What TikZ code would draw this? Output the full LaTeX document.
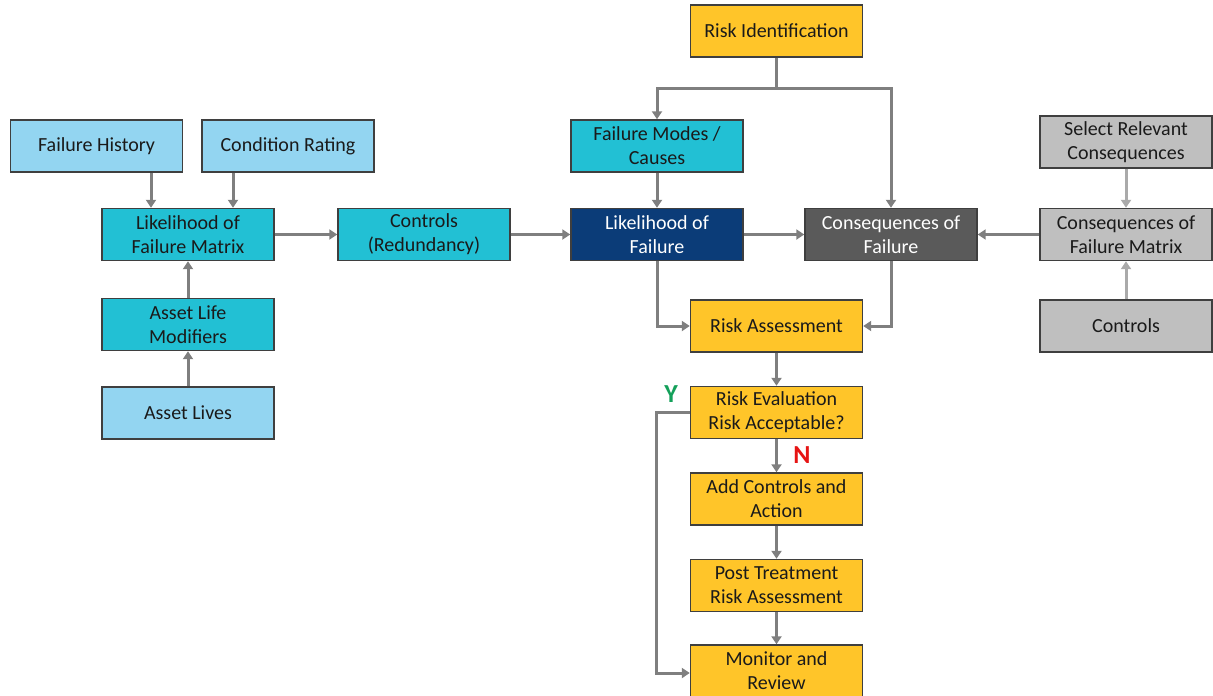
\documentclass[tikz,border=0pt]{standalone}
\usepackage{fontspec}
\setmainfont{Carlito}
\usetikzlibrary{arrows.meta}
\definecolor{lblue}{HTML}{93D5F1}
\definecolor{teal}{HTML}{22C0D4}
\definecolor{dblue}{HTML}{0B3C78}
\definecolor{dgray}{HTML}{5A5A5A}
\definecolor{lgray}{HTML}{BFBFBF}
\definecolor{yell}{HTML}{FFC529}
\definecolor{bord}{HTML}{3F3F3F}
\definecolor{arrc}{HTML}{7F7F7F}
\definecolor{arrl}{HTML}{AAAAAA}
\definecolor{txt}{HTML}{1A1A1A}
\tikzset{
  box/.style={draw=bord, line width=1.4pt, minimum width=172pt, minimum height=52pt,
    inner sep=2pt, align=center, text=txt, font=\fontsize{20}{24}\selectfont},
  arr/.style={draw=arrc, line width=3pt, -{Triangle[length=8pt,width=10pt]}},
  arrlight/.style={draw=arrl, line width=3pt, -{Triangle[length=8pt,width=10pt]}},
  plain/.style={draw=arrc, line width=3pt}
}
\begin{document}
\begin{tikzpicture}[x=1pt,y=-1pt]
\useasboundingbox (0,0) rectangle (1213,696);
% left cluster
\node[box, fill=lblue] (fh) at (96.5,146) {Failure History};
\node[box, fill=lblue] (cr) at (288,146) {Condition Rating};
\node[box, fill=teal] (lfm) at (188,234.5) {Likelihood of\\Failure Matrix};
\node[box, fill=teal] (alm) at (188,324.5) {Asset Life\\Modifiers};
\node[box, fill=lblue] (al) at (188,413) {Asset Lives};
\node[box, fill=teal] (ctr) at (424,234.5) {Controls\\(Redundancy)};
% centre
\node[box, fill=yell] (ri) at (776.5,31) {Risk Identification};
\node[box, fill=teal] (fmc) at (657,146) {Failure Modes /\\Causes};
\node[box, fill=dblue, text=white] (lof) at (657,234.5) {Likelihood of\\Failure};
\node[box, fill=dgray, text=white] (cof) at (891,234.5) {Consequences of\\Failure};
% right
\node[box, fill=lgray] (src) at (1126,142) {Select Relevant\\Consequences};
\node[box, fill=lgray] (cfm) at (1126,234.5) {Consequences of\\Failure Matrix};
\node[box, fill=lgray] (cg) at (1126,326) {Controls};
% column
\node[box, fill=yell] (ra) at (776.5,326) {Risk Assessment};
\node[box, fill=yell] (re) at (776.5,412.5) {Risk Evaluation\\Risk Acceptable?};
\node[box, fill=yell] (ac) at (776.5,499) {Add Controls and\\Action};
\node[box, fill=yell] (pt) at (776.5,585.5) {Post Treatment\\Risk Assessment};
\node[box, fill=yell] (mr) at (776.5,671) {Monitor and\\Review};
% labels
\node[font=\fontsize{26}{28}\selectfont\bfseries, text={rgb,255:red,20;green,160;blue,90}] (ylab) at (671,394) {Y};
\node[font=\fontsize{26}{28}\selectfont\bfseries, text={rgb,255:red,230;green,20;blue,20}] (nlab) at (802,455) {N};
% connectors left
\draw[arr] ([xshift=54.5pt]fh.south) -- ([xshift=-37pt]lfm.north);
\draw[arr] ([xshift=-55pt]cr.south) -- ([xshift=45pt]lfm.north);
\draw[arr] (alm.north) -- (lfm.south);
\draw[arr] (al.north) -- (alm.south);
\draw[arr] (lfm.east) -- (ctr.west);
\draw[arr] (ctr.east) -- (lof.west);
% risk identification split
\coordinate (split) at (776.5,88);
\draw[plain] (ri.south) -- (split);
\draw[arr] ([xshift=1.5pt]split) -| (fmc.north);
\draw[arr] ([xshift=-1.5pt]split) -| (cof.north);
\draw[arr] (fmc.south) -- (lof.north);
\draw[arr] (lof.east) -- (cof.west);
\draw[arr] (cfm.west) -- (cof.east);
\draw[arrlight] (src.south) -- (cfm.north);
\draw[arrlight] (cg.north) -- (cfm.south);
% to risk assessment
\draw[arr] (lof.south) |- (ra.west);
\draw[arr] (cof.south) |- (ra.east);
\draw[arr] (ra.south) -- (re.north);
\draw[arr] (re.south) -- (ac.north);
\draw[arr] (ac.south) -- (pt.north);
\draw[arr] (pt.south) -- (mr.north);
\draw[arr] (re.west) -- ++(-33,0) |- ([yshift=-2pt]mr.west);
\end{tikzpicture}
\end{document}
